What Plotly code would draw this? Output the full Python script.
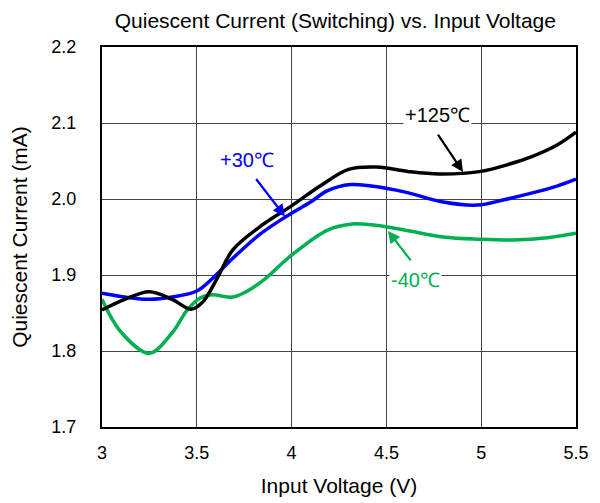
import plotly.graph_objects as go

v_125 = [3.0, 3.12, 3.25, 3.37, 3.47, 3.53, 3.61, 3.69, 3.83, 4.0, 4.15, 4.3, 4.45, 4.62, 4.78, 4.99, 5.15, 5.27, 5.4, 5.5]
i_125 = [1.854, 1.868, 1.878, 1.868, 1.855, 1.864, 1.897, 1.933, 1.963, 1.991, 2.017, 2.039, 2.042, 2.036, 2.033, 2.036, 2.046, 2.056, 2.071, 2.088]

v_30 = [3.0, 3.12, 3.25, 3.37, 3.5, 3.585, 3.69, 3.83, 3.965, 4.1, 4.19, 4.31, 4.42, 4.6, 4.8, 4.98, 5.12, 5.27, 5.4, 5.5]
i_30 = [1.876, 1.871, 1.868, 1.871, 1.879, 1.896, 1.922, 1.953, 1.976, 1.996, 2.011, 2.019, 2.017, 2.009, 1.996, 1.992, 1.999, 2.008, 2.017, 2.026]

v_m40 = [3.0, 3.1, 3.25, 3.37, 3.45, 3.52, 3.58, 3.69, 3.76, 3.85, 4.0, 4.19, 4.32, 4.42, 4.6, 4.8, 4.99, 5.17, 5.35, 5.5]
i_m40 = [1.868, 1.825, 1.797, 1.824, 1.854, 1.870, 1.874, 1.871, 1.878, 1.893, 1.926, 1.959, 1.967, 1.966, 1.959, 1.950, 1.947, 1.946, 1.949, 1.955]

x_ticks = [3, 3.5, 4, 4.5, 5, 5.5]
x_tick_labels = ["3", "3.5", "4", "4.5", "5", "5.5"]
y_ticks = [1.7, 1.8, 1.9, 2.0, 2.1, 2.2]
y_tick_labels = ["1.7", "1.8", "1.9", "2.0", "2.1", "2.2"]

FONT = "Liberation Sans, Arial, sans-serif"

fig = go.Figure()
for v, i, c in [(v_m40, i_m40, "#00B050"), (v_30, i_30, "#0000FF"), (v_125, i_125, "#000000")]:
    fig.add_trace(go.Scatter(x=v, y=i, mode="lines", line=dict(color=c, width=3.5, shape="spline", smoothing=1.0),
                             showlegend=False, hoverinfo="skip"))

ann = []
for (hx, hy, ax, ay, c) in [(4.904, 2.0355, -26, -39, "#000000"),
                           (3.965, 1.977, -30, -39, "#0000FF"),
                           (4.508, 1.958, 24, 31, "#00B050")]:
    ann.append(dict(x=hx, y=hy, xref="x", yref="y", ax=ax, ay=ay, text="", showarrow=True,
                    arrowhead=2, arrowsize=1.1, arrowwidth=2.2, arrowcolor=c))
ann.append(dict(x=4.767, y=2.1105, xref="x", yref="y", text="+125\u2103", showarrow=False,
                font=dict(family=FONT, size=20, color="#000000"), bgcolor="white"))
ann.append(dict(x=3.765, y=2.051, xref="x", yref="y", text="+30\u2103", showarrow=False,
                font=dict(family=FONT, size=20, color="#0000FF")))
ann.append(dict(x=4.656, y=1.893, xref="x", yref="y", text="-40\u2103", showarrow=False,
                font=dict(family=FONT, size=20, color="#00B050"), bgcolor="white"))

fig.update_layout(
    width=592, height=495,
    margin=dict(l=94, r=24, t=39, b=76, autoexpand=False),
    paper_bgcolor="white", plot_bgcolor="white",
    font=dict(family=FONT, size=18, color="#000000"),
    title=dict(text="Quiescent Current (Switching) vs. Input Voltage", x=0.553, xanchor="center",
               y=0.975, yanchor="middle", font=dict(family=FONT, size=21, color="#000000")),
    annotations=ann,
    xaxis=dict(range=[3, 5.5], tickvals=x_ticks, ticktext=x_tick_labels, showgrid=True,
               gridcolor="#444444", gridwidth=1, zeroline=False, showline=True, linecolor="black",
               linewidth=2, mirror=True, ticks="outside", ticklen=8, tickcolor="white",
               automargin=False,
               title=dict(text="Input Voltage (V)", standoff=17, font=dict(size=21)),
               tickfont=dict(size=18)),
    yaxis=dict(range=[1.7, 2.2], tickvals=y_ticks, ticktext=y_tick_labels, showgrid=True,
               gridcolor="#444444", gridwidth=1, zeroline=False, showline=True, linecolor="black",
               linewidth=2, mirror=True, ticks="outside", ticklen=20, tickcolor="white",
               automargin=False,
               title=dict(text="Quiescent Current (mA)", standoff=18, font=dict(size=21)),
               tickfont=dict(size=18)),
)

fig.write_html("out.html")
